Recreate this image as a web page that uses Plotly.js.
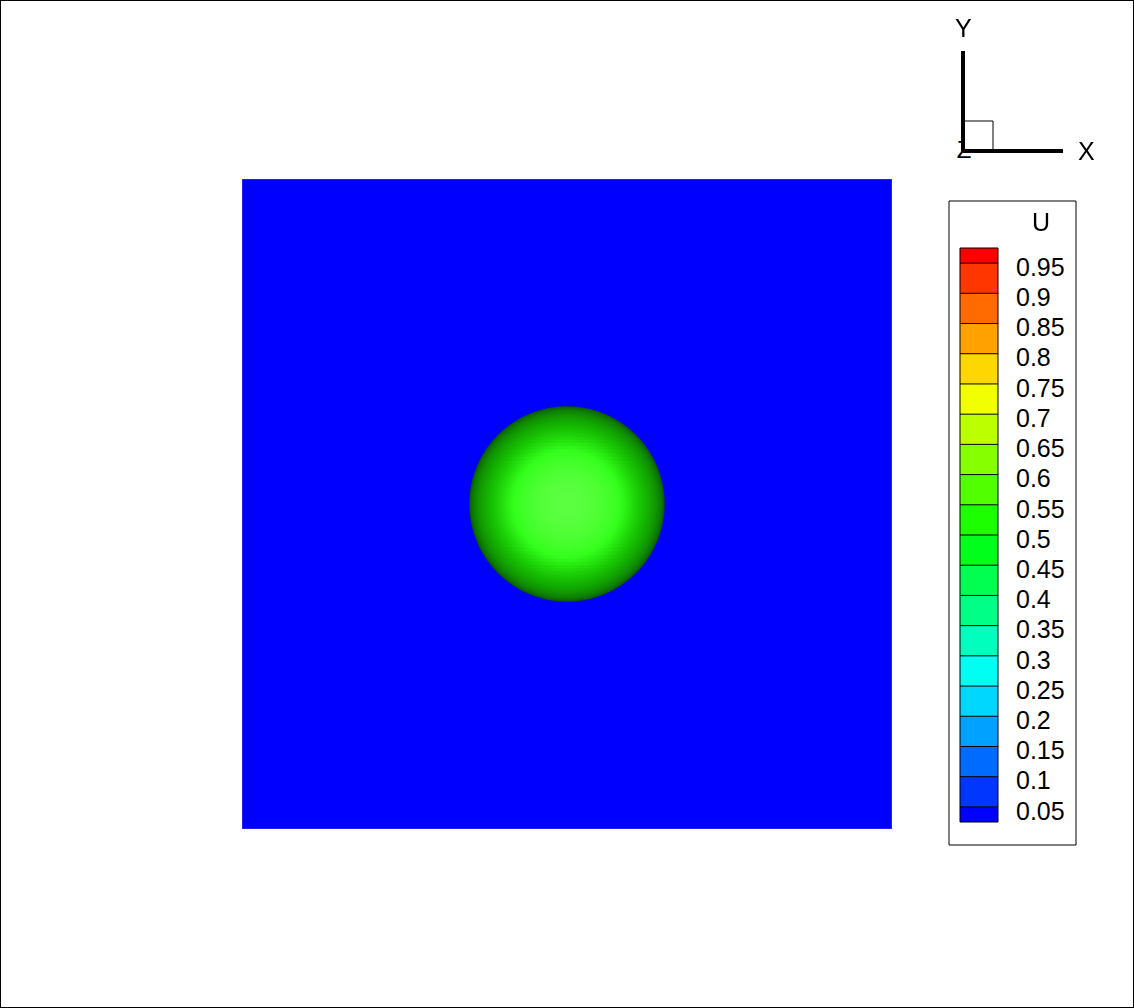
<!DOCTYPE html>
<html>
<head>
<meta charset="utf-8">
<script src="https://cdn.plot.ly/plotly-3.0.1.min.js"></script>
<style>
  html, body { margin: 0; padding: 0; background: #fff; }
  #plot { width: 1134px; height: 1008px; }
</style>
</head>
<body>
<div id="plot"></div>
<script>
// ---------- data ----------
// contour levels of U shown in the legend
const levels = [0.05, 0.1, 0.15, 0.2, 0.25, 0.3, 0.35, 0.4, 0.45, 0.5,
                0.55, 0.6, 0.65, 0.7, 0.75, 0.8, 0.85, 0.9, 0.95];
const levelLabels = ['0.05', '0.1', '0.15', '0.2', '0.25', '0.3', '0.35', '0.4', '0.45', '0.5',
                     '0.55', '0.6', '0.65', '0.7', '0.75', '0.8', '0.85', '0.9', '0.95'];
// one colour per band (below 0.05 ... above 0.95)
const bandColors = ['#0000FF', '#0036FF', '#006BFF', '#00A1FF', '#00D7FF',
                    '#00FFF2', '#00FFBC', '#00FF86', '#00FF51', '#00FF1B',
                    '#1BFF00', '#51FF00', '#86FF00', '#BCFF00', '#F2FF00',
                    '#FFD700', '#FFA100', '#FF6B00', '#FF3600', '#FF0000'];
const legendEnds = [0.025, 0.975];

// domain (square plate) and the sphere sitting in it
const plateX = [-0.5, 0.5];
const plateY = [-0.5, 0.5];
const plateU = 0.0;
const sphereCenter = [0, 0, 0];
const sphereRadius = 0.15;
const sphereU = 0.52;

// axis triad (unit directions) and the little box at the origin
const triadX = [0, 1];
const triadY = [0, 1];
const triadBox = 0.3;

// ---------- helpers ----------
// stepwise colour scale on [0, 1] from the band colours
function bandScale() {
  const edges = [0].concat(levels, [1]);
  const cs = [];
  for (let i = 0; i < bandColors.length; i++) {
    cs.push([edges[i], bandColors[i]]);
    cs.push([edges[i + 1], bandColors[i]]);
  }
  return cs;
}

// sphere as a lat/long grid; poles on the y axis so they sit on the outline
function sphereMesh(nt, np) {
  const xs = [], ys = [], zs = [], cs = [];
  for (let i = 0; i <= nt; i++) {
    const th = Math.PI * i / nt;
    const rx = [], ry = [], rz = [], rc = [];
    for (let j = 0; j <= np; j++) {
      const ph = 2 * Math.PI * j / np;
      rx.push(sphereCenter[0] + sphereRadius * Math.sin(th) * Math.cos(ph));
      ry.push(sphereCenter[1] + sphereRadius * Math.cos(th));
      rz.push(sphereCenter[2] + sphereRadius * Math.sin(th) * Math.sin(ph));
      rc.push(sphereU);
    }
    xs.push(rx); ys.push(ry); zs.push(rz); cs.push(rc);
  }
  return { x: xs, y: ys, z: zs, c: cs };
}

// ---------- traces ----------
const sph = sphereMesh(80, 120);
const scale = bandScale();

const plate = {
  type: 'surface', scene: 'scene',
  x: plateX, y: plateY,
  z: [[0, 0], [0, 0]],
  surfacecolor: [[plateU, plateU], [plateU, plateU]],
  colorscale: scale, cmin: 0, cmax: 1, showscale: false,
  lighting: { ambient: 1, diffuse: 0, specular: 0, roughness: 1, fresnel: 0 },
  hoverinfo: 'skip'
};

const sphere = {
  type: 'surface', scene: 'scene',
  x: sph.x, y: sph.y, z: sph.z,
  surfacecolor: sph.c,
  colorscale: scale, cmin: 0, cmax: 1, showscale: false,
  lighting: { ambient: 0.22, diffuse: 0.78, specular: 0.2, roughness: 0.5, fresnel: 0 },
  lightposition: { x: 0, y: 0, z: 100000 },
  hoverinfo: 'skip'
};

const legendBar = {
  type: 'heatmap', xaxis: 'x', yaxis: 'y',
  x: [0, 1],
  y: [legendEnds[0]].concat(levels, [legendEnds[1]]),
  z: bandColors.map((c, i) => [i]),
  zmin: -0.5, zmax: bandColors.length - 0.5,
  colorscale: bandColors.map((c, i) => [[i / bandColors.length, c], [(i + 1) / bandColors.length, c]]).flat(),
  showscale: false, hoverinfo: 'skip'
};

const zLabel = {
  type: 'scatter', xaxis: 'x2', yaxis: 'y2', mode: 'text',
  x: [0.01], y: [-0.01], text: ['Z'],
  textfont: { family: 'Liberation Sans, Arial, sans-serif', size: 24, color: '#000' },
  hoverinfo: 'skip'
};
const box = {
  type: 'scatter', xaxis: 'x2', yaxis: 'y2', mode: 'lines',
  x: [0, triadBox, triadBox, 0, 0], y: [0, 0, triadBox, triadBox, 0],
  fill: 'toself', fillcolor: '#fff',
  line: { color: '#000', width: 1 }, hoverinfo: 'skip'
};
const axisYLine = {
  type: 'scatter', xaxis: 'x2', yaxis: 'y2', mode: 'lines',
  x: [0, 0], y: triadY, line: { color: '#000', width: 4 }, hoverinfo: 'skip'
};
const axisXLine = {
  type: 'scatter', xaxis: 'x2', yaxis: 'y2', mode: 'lines',
  x: triadX, y: [0, 0], line: { color: '#000', width: 4 }, hoverinfo: 'skip'
};

// ---------- layout ----------
const W = 1134, H = 1008;
const font = { family: 'Liberation Sans, Arial, sans-serif', size: 25, color: '#000' };
const px = v => v / W;
const py = v => (H - v) / H;

const hidden = { visible: false, showgrid: false, zeroline: false, showbackground: false,
                 showspikes: false };

const shapes = [
  // legend frame
  { type: 'rect', xref: 'paper', yref: 'paper', layer: 'below',
    x0: px(949), x1: px(1076), y0: py(845), y1: py(201),
    line: { color: '#000', width: 1 }, fillcolor: '#fff' },
  // outline of the bar
  { type: 'rect', xref: 'x domain', yref: 'y domain', x0: 0, x1: 1, y0: 0, y1: 1,
    line: { color: '#000', width: 1 } },
  // page frame
  { type: 'rect', xref: 'paper', yref: 'paper', x0: 0, x1: 1, y0: 0, y1: 1,
    line: { color: '#000', width: 2 } }
].concat(levels.map(v => ({
  type: 'line', xref: 'x domain', yref: 'y', x0: 0, x1: 1, y0: v, y1: v,
  line: { color: '#000', width: 1 }
})));

const layout = {
  width: W, height: H,
  margin: { l: 0, r: 0, t: 0, b: 0, pad: 0 },
  paper_bgcolor: '#fff', plot_bgcolor: 'rgba(0,0,0,0)',
  showlegend: false, hovermode: false, font: font,
  scene: {
    domain: { x: [px(194), px(940)], y: [2 / H, 1 - 2 / H] },
    bgcolor: '#fff',
    xaxis: Object.assign({ range: plateX }, hidden),
    yaxis: Object.assign({ range: plateY }, hidden),
    zaxis: Object.assign({ range: [-sphereRadius, sphereRadius] }, hidden),
    aspectmode: 'manual',
    aspectratio: { x: 1, y: 1, z: 2 * sphereRadius },
    camera: {
      eye: { x: 0, y: 0, z: 1.865 },
      up: { x: 0, y: 1, z: 0 },
      center: { x: 0, y: 0, z: 0 },
      projection: { type: 'perspective' }
    }
  },
  xaxis: { domain: [px(960), px(998)], range: [0, 1], visible: false, fixedrange: true },
  yaxis: {
    domain: [py(822), py(248)], range: legendEnds, side: 'right',
    showgrid: false, zeroline: false, showline: false, ticks: '',
    tickmode: 'array', tickvals: levels, ticktext: levelLabels,
    tickfont: font, ticklabelstandoff: 17, ticklabelshift: 4, fixedrange: true
  },
  xaxis2: { domain: [px(913), px(1113)], range: [-0.5, 1.5], visible: false, anchor: 'y2', fixedrange: true },
  yaxis2: { domain: [py(201), py(1)], range: [-0.5, 1.5], visible: false, anchor: 'x2', fixedrange: true },
  shapes: shapes,
  annotations: [
    { xref: 'paper', yref: 'paper', x: px(1041), y: py(222), xanchor: 'center', yanchor: 'middle',
      text: 'U', showarrow: false, font: font },
    { xref: 'x2', yref: 'y2', x: 0, y: 1.23, text: 'Y', showarrow: false, font: font },
    { xref: 'x2', yref: 'y2', x: 1.23, y: 0, text: 'X', showarrow: false, font: font }
  ]
};

Plotly.newPlot('plot', [plate, sphere, legendBar, zLabel, box, axisYLine, axisXLine], layout,
  { displayModeBar: false });
</script>
</body>
</html>
